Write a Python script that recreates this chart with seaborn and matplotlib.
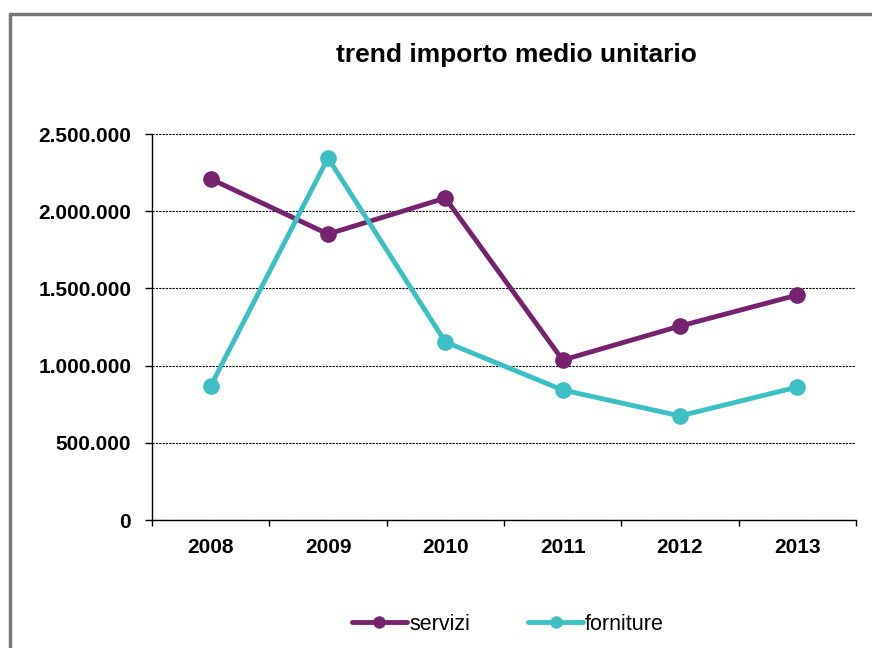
import matplotlib
matplotlib.use('Agg')
import matplotlib.pyplot as plt
import matplotlib.ticker as mticker
from matplotlib.lines import Line2D
import seaborn as sns
import pandas as pd

anni = ['2008', '2009', '2010', '2011', '2012', '2013']
servizi = [2209000, 1852000, 2085000, 1036000, 1256000, 1457000]
forniture = [868000, 2345000, 1153000, 842000, 674000, 861000]
serie = ['servizi', 'forniture']
colori = ['#76236F', '#3CC0C3']

df = pd.DataFrame({'anno': anni * 2,
                   'valore': servizi + forniture,
                   'serie': [serie[0]] * 6 + [serie[1]] * 6})
df['pos'] = list(range(6)) * 2

sns.set_style('white')
plt.rcParams['font.family'] = ['Liberation Sans', 'DejaVu Sans']

fig = plt.figure(figsize=(8.72, 6.48), dpi=100)
ax = fig.add_axes([152/872, 1-520/648, (856-152)/872, (520-134)/648])

sns.lineplot(data=df, x='pos', y='valore', hue='serie', palette=colori,
             marker='o', markersize=12, markeredgewidth=0, linewidth=3.5,
             ax=ax, legend=False)

ax.set_xlim(-0.5, 5.5)
ax.set_ylim(0, 2500000)
ax.set_xticks(range(6))
ax.set_xticklabels(anni, fontsize=15, fontweight='bold', color='black')
ax.set_xticks([i + 0.5 for i in range(-1, 6)], minor=True)
ax.tick_params(axis='x', which='major', bottom=True, length=0, pad=13)
ax.tick_params(axis='x', which='minor', bottom=True, length=4, width=1, color='black', direction='out')
ax.set_yticks(range(0, 2500001, 500000))
ax.yaxis.set_major_formatter(mticker.FuncFormatter(lambda v, p: f'{int(v):,}'.replace(',', '.')))
ax.tick_params(axis='y', left=True, length=5, width=1, color='black', pad=10,
               labelsize=15, labelcolor='black')
for t in ax.get_yticklabels():
    t.set_fontweight('bold')
ax.grid(axis='y', color='black', linestyle=(0, (2, 1)), linewidth=0.8)
ax.set_axisbelow(True)
ax.set_xlabel('')
ax.set_ylabel('')
for s in ['top', 'right']:
    ax.spines[s].set_visible(False)
for s in ['left', 'bottom']:
    ax.spines[s].set_color('black')
    ax.spines[s].set_linewidth(1)

fig.text(516/872, 1-55/648, 'trend importo medio unitario', ha='center', va='center',
         fontsize=19, fontweight='bold', color='black')

handles = [Line2D([0], [0], color=c, marker='o', markersize=9, linewidth=3.5, markeredgewidth=0)
           for c in colori]
leg = fig.legend(handles, serie, loc='center', bbox_to_anchor=(508/872, 1-624/648), ncol=2,
                 frameon=False, fontsize=15.5, handlelength=2.55, columnspacing=2.7,
                 handletextpad=0.1)
for t in leg.get_texts():
    t.set_color('black')

# bordo grafico
fig.add_artist(Line2D([10/872, 1], [1-14/648, 1-14/648], color='#777777', linewidth=2.5,
                      transform=fig.transFigure))
fig.add_artist(Line2D([10/872, 10/872], [1-14/648, 0], color='#777777', linewidth=2.5,
                      transform=fig.transFigure))

fig.savefig('out.png', dpi=100)
